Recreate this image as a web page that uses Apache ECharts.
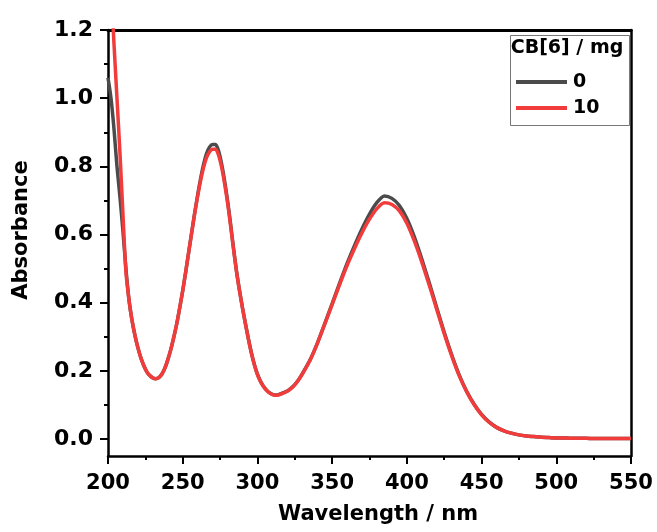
<!DOCTYPE html>
<html>
<head>
<meta charset="utf-8">
<script src="https://cdn.jsdelivr.net/npm/echarts@6/dist/echarts.min.js"></script>
<style>
html,body{margin:0;padding:0;background:#fff;}
#chart{width:657px;height:532px;}
</style>
</head>
<body>
<div id="chart"></div>
<script>
// Wavelength (nm)
var wavelengths = [
  200,202,204,206,208,210,212,214,216,218,220,222,224,226,228,230,232,234,236,238,
  240,242,244,246,248,250,252,254,256,258,260,262,264,266,268,270,272,274,276,278,
  280,282,284,286,288,290,292,294,296,298,300,302,304,306,308,310,312,314,316,318,
  320,322,324,326,328,330,
  335,340,345,350,355,360,365,370,375,380,385,390,395,400,405,410,415,420,425,430,
  435,440,445,450,455,460,465,470,475,480,485,490,495,500,505,510,515,520,525,530,
  535,540,545,550
];
// CB[6] = 0 mg
var abs0 = [
  1.06,1.00,0.91,0.80,0.71,0.61,0.50,0.41,0.35,0.305,0.268,0.238,0.215,0.197,0.186,0.179,0.177,0.180,0.190,0.207,
  0.232,0.262,0.298,0.338,0.385,0.435,0.490,0.548,0.606,0.663,0.716,0.765,0.806,0.838,0.857,0.864,0.864,0.845,0.808,0.758,
  0.700,0.632,0.560,0.493,0.436,0.385,0.338,0.293,0.252,0.218,0.190,0.170,0.155,0.144,0.136,0.131,0.129,0.130,0.133,0.137,
  0.141,0.147,0.155,0.165,0.177,0.191,
  0.230,0.280,0.338,0.397,0.457,0.515,0.568,0.617,0.660,0.694,0.713,0.706,0.685,0.647,0.593,0.528,0.458,0.385,0.313,0.247,
  0.188,0.140,0.102,0.072,0.050,0.034,0.024,0.017,0.012,0.009,0.007,0.005,0.004,0.003,0.003,0.002,0.002,0.002,0.001,0.001,
  0.001,0.001,0.001,0.001
];
// CB[6] = 10 mg
var abs10 = [
  1.50,1.33,1.16,1.00,0.84,0.66,0.49,0.41,0.35,0.305,0.268,0.238,0.215,0.197,0.186,0.179,0.177,0.180,0.190,0.207,
  0.232,0.262,0.298,0.338,0.385,0.435,0.490,0.548,0.605,0.661,0.712,0.759,0.797,0.826,0.843,0.850,0.850,0.833,0.798,0.750,
  0.694,0.627,0.557,0.491,0.435,0.384,0.337,0.292,0.251,0.217,0.189,0.169,0.154,0.143,0.135,0.130,0.128,0.129,0.132,0.136,
  0.140,0.146,0.154,0.164,0.176,0.190,
  0.229,0.279,0.336,0.394,0.453,0.509,0.559,0.605,0.645,0.676,0.693,0.688,0.669,0.633,0.581,0.519,0.451,0.380,0.309,0.244,
  0.186,0.139,0.101,0.071,0.049,0.034,0.024,0.017,0.012,0.009,0.007,0.005,0.004,0.003,0.003,0.002,0.002,0.002,0.001,0.001,
  0.001,0.001,0.001,0.001
];
var seriesNames = ['0', '10'];
var legendTitle = 'CB[6] / mg';
var xTitle = 'Wavelength / nm';
var yTitle = 'Absorbance';

var FONT = 'DejaVu Sans';
function pairs(xs, ys){ return xs.map(function(x,i){ return [x, ys[i]]; }); }

var chart = echarts.init(document.getElementById('chart'), null, {renderer:'canvas'});
var axisLineStyle = {color:'#000', width:2.5};
var option = {
  backgroundColor:'#fff',
  animation:false,
  grid:[
    {left:108, right:26, top:30, bottom:76, show:false},
    {left:108, right:26, top:30, bottom:93, show:false}
  ],
  xAxis:[
    {type:'value', gridIndex:0, position:'bottom', min:200, max:550, interval:50,
     axisLine:{show:true, onZero:false, lineStyle:axisLineStyle},
     axisTick:{show:true, inside:false, length:8, lineStyle:{color:'#000', width:2}},
     minorTick:{show:true, splitNumber:2, length:4, lineStyle:{color:'#000', width:2}},
     splitLine:{show:false},
     axisLabel:{show:true, margin:17, color:'#000', fontFamily:FONT, fontWeight:'bold', fontSize:21}},
    {type:'value', gridIndex:0, position:'top', min:200, max:550,
     axisLine:{show:true, onZero:false, lineStyle:{color:'#000', width:3}},
     axisTick:{show:false}, axisLabel:{show:false}, splitLine:{show:false}},
    {type:'value', gridIndex:1, min:200, max:550, show:false}
  ],
  yAxis:[
    {type:'value', gridIndex:0, position:'left', min:-0.05, max:1.2,
     axisLine:{show:true, onZero:false, lineStyle:axisLineStyle},
     axisTick:{show:false}, axisLabel:{show:false}, splitLine:{show:false}},
    {type:'value', gridIndex:0, position:'right', min:-0.05, max:1.2,
     axisLine:{show:true, onZero:false, lineStyle:axisLineStyle},
     axisTick:{show:false}, axisLabel:{show:false}, splitLine:{show:false}},
    {type:'value', gridIndex:1, position:'left', min:0, max:1.2, interval:0.2,
     axisLine:{show:false},
     axisTick:{show:true, inside:false, length:8, lineStyle:{color:'#000', width:2}},
     minorTick:{show:true, splitNumber:2, length:4, lineStyle:{color:'#000', width:2}},
     splitLine:{show:false},
     axisLabel:{show:true, margin:15, color:'#000', fontFamily:FONT, fontWeight:'bold', fontSize:22,
       formatter:function(v){ return v.toFixed(1); }}}
  ],
  legend:{
    orient:'vertical', left:511, top:67, itemWidth:51, itemHeight:4, itemGap:6,
    icon:'rect',
    textStyle:{color:'#000', fontFamily:FONT, fontWeight:'bold', fontSize:19, lineHeight:20, padding:[0,0,0,1]},
    data:seriesNames
  },
  graphic:[
    {type:'rect', left:508, top:33, shape:{width:119, height:90},
     style:{fill:'none', stroke:'#777', lineWidth:1}, z:10},
    {type:'text', x:567, y:48,
     style:{text:legendTitle, fill:'#000', font:'bold 19px "DejaVu Sans"', textAlign:'center', textVerticalAlign:'middle'}, z:10},
    {type:'text', x:378, y:515,
     style:{text:xTitle, fill:'#000', font:'bold 21px "DejaVu Sans"', textAlign:'center', textVerticalAlign:'middle'}},
    {type:'text', x:22, y:230, rotation:Math.PI/2,
     style:{text:yTitle, fill:'#000', font:'bold 21px "DejaVu Sans"', textAlign:'center', textVerticalAlign:'middle'}}
  ],
  series:[
    {name:seriesNames[0], type:'line', xAxisIndex:0, yAxisIndex:0, data:pairs(wavelengths, abs0),
     showSymbol:false, smooth:0.25, clip:true, lineStyle:{color:'#4b4b4b', width:3.5}, itemStyle:{color:'#4b4b4b'}, z:2},
    {name:seriesNames[1], type:'line', xAxisIndex:0, yAxisIndex:0, data:pairs(wavelengths, abs10),
     showSymbol:false, smooth:0.25, clip:true, lineStyle:{color:'#f23c3c', width:3.5}, itemStyle:{color:'#f23c3c'}, z:3}
  ]
};
chart.setOption(option);
</script>
</body>
</html>
